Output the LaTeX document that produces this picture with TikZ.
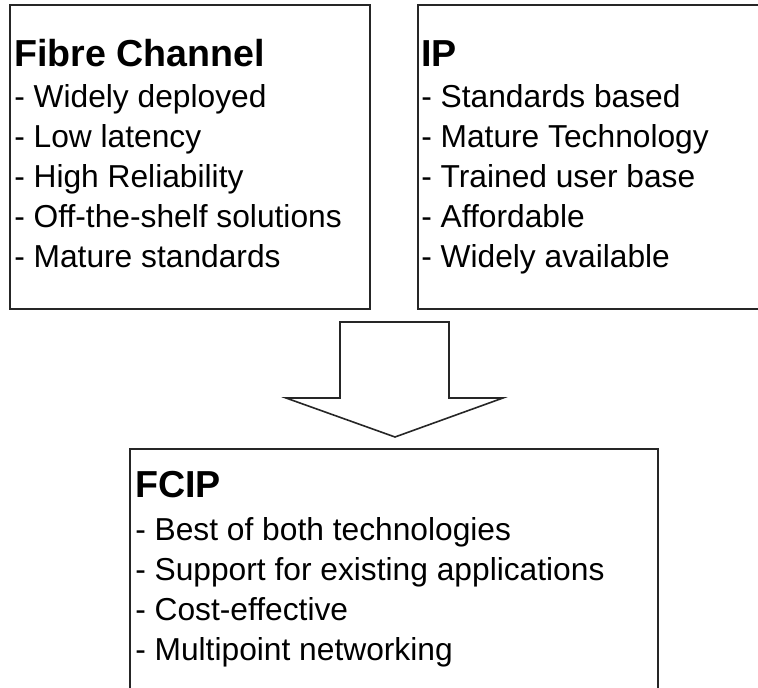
\documentclass[tikz,border=0pt]{standalone}
\usepackage{fontspec}
\setmainfont{Liberation Sans}
\begin{document}
\begin{tikzpicture}[x=0.75pt,y=-0.75pt,
  box/.style={draw=black!85,line width=1.4pt,fill=white,inner sep=0pt,outer sep=0pt,anchor=north west},
  ttl/.style={anchor=base west,inner sep=0pt,font=\fontsize{28.2pt}{33pt}\selectfont\bfseries},
  itm/.style={anchor=base west,inner sep=0pt,font=\fontsize{23.8pt}{29pt}\selectfont},
  blockarrow/.style={draw=black!85,line width=1.2pt,fill=white,line join=miter}]
\useasboundingbox (0,0) rectangle (758,688);
\begin{scope}
\clip (0,0) rectangle (758,688);
% boxes
\node[box,minimum width=270pt,minimum height=228pt] (fc) at (10,5) {};
\node[box,minimum width=260pt,minimum height=228pt] (ip) at (418,5) {};
\node[box,minimum width=396pt,minimum height=200pt] (fcip) at (130,449) {};
% block arrow
\draw[blockarrow] (340,322) -- (449,322) -- (449,398) -- (503,398) -- (395,437)
  -- (286,398) -- (340,398) -- cycle;
\end{scope}
% Fibre Channel
\node[ttl] (fct) at (14,67) {Fibre Channel};
\node[itm] (fc1) at (14,108) {- Widely deployed};
\node[itm] (fc2) at (14,148) {- Low latency};
\node[itm] (fc3) at (14,188) {- High Reliability};
\node[itm] (fc4) at (14,228) {- Off-the-shelf solutions};
\node[itm] (fc5) at (14,268) {- Mature standards};
% IP
\node[ttl] (ipt) at (421,67) {IP};
\node[itm] (ip1) at (421,108) {- Standards based};
\node[itm] (ip2) at (421,148) {- Mature Technology};
\node[itm] (ip3) at (421,188) {- Trained user base};
\node[itm] (ip4) at (421,228) {- Affordable};
\node[itm] (ip5) at (421,268) {- Widely available};
% FCIP
\node[ttl] (fcipt) at (135,498) {FCIP};
\node[itm] (fcip1) at (135,540) {- Best of both technologies};
\node[itm] (fcip2) at (135,580) {- Support for existing applications};
\node[itm] (fcip3) at (135,620) {- Cost-effective};
\node[itm] (fcip4) at (135,660) {- Multipoint networking};
\end{tikzpicture}
\end{document}
